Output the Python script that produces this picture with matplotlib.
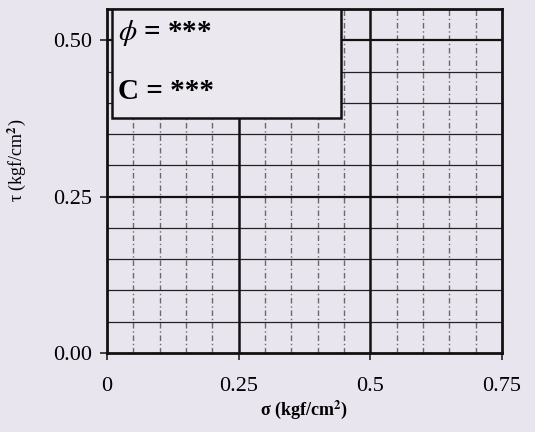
import matplotlib
matplotlib.use("Agg")
import matplotlib.pyplot as plt
import numpy as np
from matplotlib.patches import Rectangle

x_ticks = [0, 0.25, 0.5, 0.75]
x_tick_labels = ["0", "0.25", "0.5", "0.75"]
y_ticks = [0.0, 0.25, 0.5]
y_tick_labels = ["0.00", "0.25", "0.50"]
x_minor = [0.05, 0.10, 0.15, 0.20, 0.30, 0.35, 0.40, 0.45, 0.55, 0.60, 0.65, 0.70]
y_minor = [0.05, 0.10, 0.15, 0.20, 0.30, 0.35, 0.40, 0.45]
x_major = [0.25, 0.5]
y_major = [0.25, 0.5]
box_lines = ["$\\phi$ = ***", "C = ***"]

plt.rcParams['font.family'] = ['Liberation Serif', 'DejaVu Serif']
plt.rcParams['mathtext.fontset'] = 'stix'

bg = '#e8e5ee'
fig = plt.figure(figsize=(5.35, 4.32), dpi=100, facecolor=bg)
ax = fig.add_axes([0.2, 0.183, 0.738, 0.796], facecolor=bg)
ax.set_xlim(0, 0.75)
ax.set_ylim(0, 0.55)

for xv in x_minor:
    ax.axvline(xv, color='#333333', lw=1.0, ls=(0, (4, 2, 1, 2)), alpha=0.7, zorder=1)
for yv in y_minor:
    ax.axhline(yv, color='#222222', lw=0.9, zorder=1)
for xv in x_major:
    ax.axvline(xv, color='#111111', lw=1.8, zorder=2)
for yv in y_major:
    ax.axhline(yv, color='#111111', lw=1.6, zorder=2)

for s in ax.spines.values():
    s.set_linewidth(2.0)
    s.set_color('#111111')

ax.set_xticks(x_ticks)
ax.set_xticklabels(x_tick_labels, fontsize=16)
ax.set_yticks(y_ticks)
ax.set_yticklabels(y_tick_labels, fontsize=16)
ax.tick_params(axis='both', direction='out', length=5, width=1.2, color='#222222')
ax.tick_params(axis='y', pad=6)
ax.tick_params(axis='x', pad=12)

ax.set_xlabel("σ (kgf/cm$^{\\mathbf{2}}$)", fontsize=13, fontweight='bold', labelpad=2)
ax.set_ylabel("τ (kgf/cm$^{\\mathbf{2}}$)", fontsize=13)
ax.yaxis.set_label_coords(-0.2, 0.56)

box = Rectangle((0.01, 0.375), 0.435, 0.175, transform=ax.transData,
                facecolor='#ebe8f0', edgecolor='#111111', lw=1.8, zorder=3)
ax.add_patch(box)
ax.text(0.02, 0.512, box_lines[0], fontsize=21, fontweight='bold', va='center', ha='left', zorder=4)
ax.text(0.02, 0.418, box_lines[1], fontsize=21, fontweight='bold', va='center', ha='left', zorder=4)

fig.savefig("out.png", dpi=100, facecolor=bg)
